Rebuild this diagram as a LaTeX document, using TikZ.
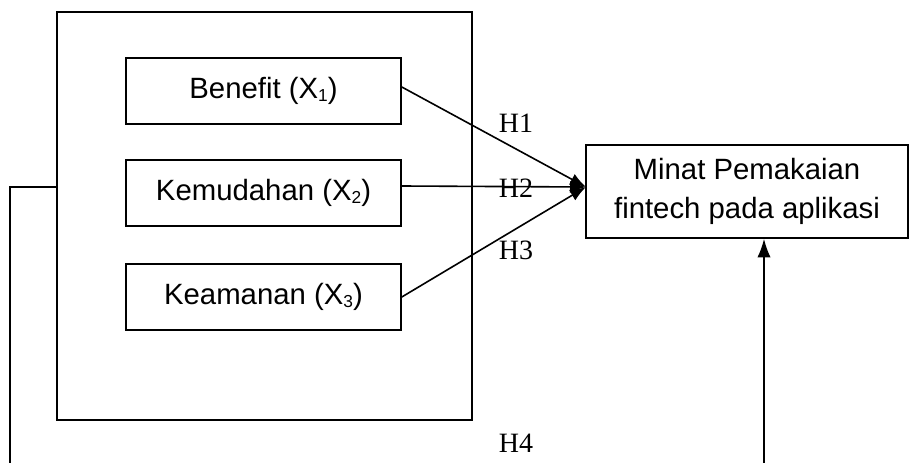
\documentclass[tikz,border=0pt]{standalone}
\usepackage{fontspec}
\setmainfont{Liberation Sans}
\newfontfamily\tnr{Liberation Serif}
\usetikzlibrary{arrows.meta}
\newcommand{\lowsub}[1]{\raisebox{-0.2ex}{\scriptsize\fontsize{13}{13}\selectfont #1}}
\begin{document}
\begin{tikzpicture}[x=0.75pt,y=-0.75pt,
  every path/.style={line width=1.2pt},
  varbox/.style={draw,line width=1.2pt,minimum width=275*0.75pt,minimum height=66*0.75pt,inner sep=0pt,font=\fontsize{22}{26}\selectfont},
  ybox/.style={draw,line width=1.2pt,minimum width=322*0.75pt,minimum height=93*0.75pt,inner sep=0pt,align=center,font=\fontsize{22}{29}\selectfont},
  hlab/.style={font=\tnr\fontsize{21}{25}\selectfont,inner sep=0pt},
  conn/.style={line width=1.2pt,-{Latex[length=12pt,width=9pt]}}]
\useasboundingbox (0,0) rectangle (913,463);
\node[draw,line width=1.2pt,minimum width=415*0.75pt,minimum height=408*0.75pt,inner sep=0pt] (outer) at (264.5,216) {};
\node[varbox] (x1) at (263.5,91) {Benefit (X\lowsub{1})};
\node[varbox] (x2) at (263.5,193) {Kemudahan (X\lowsub{2})};
\node[varbox] (x3) at (263.5,297) {Keamanan (X\lowsub{3})};
\node[ybox] (y) at (747,191.5) {Minat Pemakaian\\fintech pada aplikasi};
\coordinate (tip) at (586,187);
\coordinate (s1) at (401,87);
\coordinate (s2) at (401,186);
\coordinate (s3) at (401,297);
\draw[conn] (x1.east |- s1) -- (tip);
\draw[conn] (x2.east |- s2) -- (tip);
\draw[conn] (x3.east |- s3) -- (tip);
\coordinate (l1) at (10,187);
\coordinate (l2) at (10,463);
\coordinate (r1) at (764,463);
\draw (outer.west |- l1) -- (l1) -- (l2);
\draw[conn,-{Latex[length=14pt,width=10pt]}] (r1) -- (r1 |- y.south);
\node[hlab] (h1) at (516,123) {H1};
\node[hlab] (h2) at (516,188) {H2};
\node[hlab] (h3) at (516,250) {H3};
\node[hlab] (h4) at (516,443) {H4};
\end{tikzpicture}
\end{document}
